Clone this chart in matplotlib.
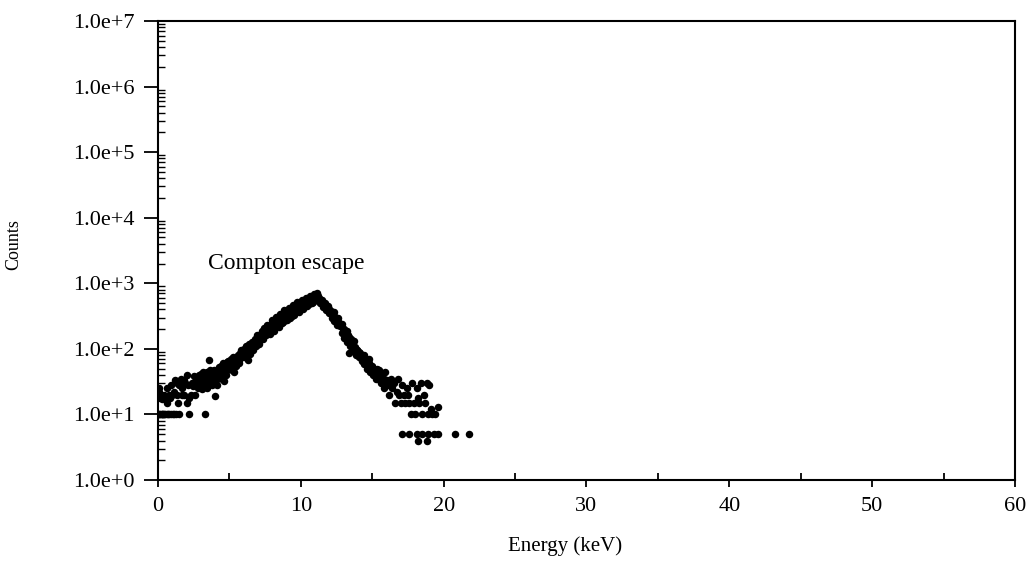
import matplotlib
matplotlib.use("Agg")
import matplotlib.pyplot as plt
from matplotlib.ticker import LogLocator, FixedLocator, NullFormatter

plt.rcParams['font.family'] = ['Liberation Serif', 'DejaVu Serif']

# spectrum (energy in keV, counts)
energy = [0.0, 0.0, 0.05, 0.1, 0.2, 0.3, 0.3, 0.4, 0.5, 0.6, 0.6, 0.7, 0.8, 0.9, 0.9,
          1.0, 1.1, 1.2, 1.3, 1.4, 1.5, 1.5, 1.6, 1.7, 1.8, 1.9,
          2.0, 2.0, 2.1, 2.2, 2.3, 2.4, 2.5, 2.6, 2.7, 2.8, 2.9,
          3.0, 3.1, 3.2, 3.3, 3.4, 3.5, 3.6, 3.7, 3.8, 3.9,
          4.0, 4.1, 4.2, 4.3, 4.4, 4.5, 4.6, 4.7, 4.8, 4.9,
          5.0, 5.1, 5.2, 5.3, 5.4, 5.5, 5.6, 5.7, 5.8, 5.9,
          6.0, 6.1, 6.2, 6.3, 6.4, 6.5, 6.6, 6.7, 6.8, 6.9,
          7.0, 7.1, 7.2, 7.3, 7.4, 7.5, 7.6, 7.7, 7.8, 7.9,
          8.0, 8.1, 8.2, 8.3, 8.4, 8.5, 8.6, 8.7, 8.8, 8.9,
          9.0, 9.1, 9.2, 9.3, 9.4, 9.5, 9.6, 9.7, 9.8, 9.9,
          10.0, 10.1, 10.2, 10.3, 10.4, 10.5, 10.6, 10.7, 10.8, 10.9,
          11.0, 11.1, 11.2, 11.3, 11.4, 11.5, 11.6, 11.7, 11.8, 11.9,
          12.0, 12.1, 12.2, 12.3, 12.4, 12.5, 12.6, 12.7, 12.8, 12.9,
          13.0, 13.1, 13.2, 13.3, 13.35, 13.4, 13.5, 13.6, 13.7, 13.8, 13.9,
          14.0, 14.1, 14.2, 14.3, 14.4, 14.5, 14.6, 14.7, 14.8, 14.9,
          15.0, 15.1, 15.2, 15.3, 15.4, 15.5, 15.6, 15.7, 15.8, 15.9,
          16.0, 16.1, 16.2, 16.3, 16.4, 16.5, 16.6, 16.7, 16.8, 16.9,
          17.0, 17.1, 17.2, 17.3, 17.4, 17.5, 17.6, 17.7, 17.8, 17.9,
          18.0, 18.1, 18.2, 18.3, 18.4, 18.5, 18.6, 18.7, 18.8, 18.9,
          19.0, 19.1, 19.2, 19.4, 19.6]
counts = [10, 18, 22, 10, 20, 10, 17, 20, 10, 15, 25, 10, 20, 10, 28,
          20, 10, 33, 20, 15, 10, 28, 35, 25, 20, 30,
          15, 40, 28, 10, 20, 30, 38, 20, 35, 25, 30,
          42, 24, 35, 10, 45, 30, 68, 38, 28, 48,
          19, 35, 45, 38, 55, 42, 32, 58, 48, 65,
          50, 70, 58, 45, 72, 62, 80, 68, 95, 75,
          100, 90, 100, 68, 105, 110, 100, 125, 140, 120,
          150, 165, 140, 175, 190, 170, 200, 185, 215, 240,
          210, 250, 270, 235, 280, 300, 265, 320, 340, 300,
          360, 330, 380, 400, 350, 420, 450, 400, 470, 500,
          460, 520, 540, 480, 550, 580, 520, 600, 560, 620,
          660, 690, 650, 600, 560, 520, 470, 500, 430, 450,
          400, 380, 340, 360, 310, 280, 300, 250, 230, 240,
          200, 180, 190, 160, 85, 150, 140, 120, 130, 105, 95,
          85, 90, 75, 68, 80, 60, 65, 55, 70, 48,
          52, 45, 40, 50, 35, 42, 30, 38, 25, 45,
          33, 28, 20, 35, 25, 30, 15, 22, 35, 20,
          15, 28, 20, 15, 25, 20, 15, 10, 30, 15,
          10, 25, 18, 15, 30, 10, 20, 15, 30, 10,
          28, 12, 10, 10, 13]

# second channel set (between the first ones), gives the band its width
energy2 = [0.15, 0.25, 0.35, 0.45, 0.65, 0.75, 1.05, 1.25, 0.1, 0.25, 0.55, 0.85,
           1.15, 1.35, 1.65, 1.85, 2.15, 2.45, 2.65, 2.85,
           3.05, 3.15, 3.25, 3.35, 3.45, 3.55, 3.65, 3.75, 3.85, 3.95,
           4.05, 4.15, 4.25, 4.35, 4.45, 4.55, 4.65, 4.75, 4.85, 4.95,
           5.05, 5.15, 5.25, 5.35, 5.45, 5.55, 5.65, 5.75, 5.85, 5.95,
           6.05, 6.15, 6.25, 6.35, 6.45, 6.55, 6.65, 6.75, 6.85, 6.95,
           7.05, 7.15, 7.25, 7.35, 7.45, 7.55, 7.65, 7.75, 7.85, 7.95,
           8.05, 8.15, 8.25, 8.35, 8.45, 8.55, 8.65, 8.75, 8.85, 8.95,
           9.05, 9.15, 9.25, 9.35, 9.45, 9.55, 9.65, 9.75, 9.85, 9.95,
           10.05, 10.15, 10.25, 10.35, 10.45, 10.55, 10.65, 10.75, 10.85, 10.95,
           11.05, 11.15, 11.25, 11.35, 11.45, 11.55, 11.65, 11.75, 11.85, 11.95,
           12.05, 12.15, 12.25, 12.35, 12.45, 12.55, 12.65, 12.75, 12.85, 12.95,
           13.05, 13.15, 13.25, 13.35, 13.45, 13.55, 13.65, 13.75, 13.85, 13.95,
           14.05, 14.15, 14.25, 14.35, 14.45, 14.55, 14.65, 14.75, 14.85, 14.95,
           15.05, 15.15, 15.25, 15.35, 15.45, 15.55, 15.65, 15.75, 15.85, 15.95]
counts2 = [10, 10, 10, 10, 10, 10, 10, 10, 25, 19, 17, 18,
           22, 30, 20, 33, 18, 27, 33, 40,
           28, 45, 30, 40, 25, 35, 48, 30, 40, 32,
           42, 28, 52, 45, 35, 60, 50, 40, 62, 55,
           60, 48, 75, 65, 55, 70, 60, 85, 78, 92,
           75, 110, 85, 118, 82, 128, 95, 125, 110, 160,
           120, 160, 185, 140, 210, 160, 230, 175, 170, 275,
           200, 190, 310, 225, 215, 340, 250, 260, 390, 280,
           280, 420, 300, 320, 460, 330, 360, 510, 370, 400,
           560, 410, 440, 600, 450, 480, 640, 500, 510, 680,
           560, 720, 560, 500, 560, 430, 470, 390, 430, 350,
           380, 300, 330, 270, 300, 230, 250, 220, 175, 190,
           145, 175, 125, 140, 110, 130, 92, 100, 80, 95,
           75, 85, 65, 75, 58, 70, 50, 60, 45, 55,
           40, 50, 35, 42, 48, 33, 40, 30, 35, 28]

# isolated low-count channels at the tail
tail_energy = [17.1, 17.6, 18.1, 18.2, 18.5, 18.8, 18.9, 19.3, 19.6, 20.8, 21.8]
tail_counts = [5, 5, 5, 4, 5, 4, 5, 5, 5, 5, 5]

fig = plt.figure(figsize=(10.34, 5.61), dpi=100)
ax = fig.add_axes([0.1528, 0.1444, 0.8288, 0.8182])

for xs, ys in [(energy, counts), (energy2, counts2), (tail_energy, tail_counts)]:
    ax.plot(xs, ys, 'o', color='black', markersize=5.4, markeredgewidth=0)

ax.set_yscale('log')
ax.set_xlim(0, 60)
ax.set_ylim(1, 1e7)

ax.yaxis.set_minor_locator(LogLocator(base=10, subs=range(2, 10), numticks=20))
ax.yaxis.set_minor_formatter(NullFormatter())
ax.set_yticks([10 ** k for k in range(8)])
ax.set_yticklabels(['1.0e+%d' % k for k in range(8)])

ax.set_xticks([0, 10, 20, 30, 40, 50, 60])
ax.xaxis.set_minor_locator(FixedLocator([5, 15, 25, 35, 45, 55]))

ax.tick_params(axis='y', which='major', direction='out', length=10, width=1.3,
               labelsize=16, pad=7)
ax.tick_params(axis='y', which='minor', direction='in', length=5, width=1.0)
ax.tick_params(axis='x', which='major', direction='out', length=5, width=1.3,
               labelsize=16, pad=7)
ax.tick_params(axis='x', which='minor', direction='in', length=5, width=1.3)

for s in ax.spines.values():
    s.set_linewidth(1.5)

ax.set_xlabel('Energy (keV)', fontsize=15)
ax.xaxis.set_label_coords((565 - 158) / 857, -0.122)
ax.set_ylabel('Counts', fontsize=13)
ax.yaxis.set_label_coords(-0.158, 0.512)

ax.text(3.5, 2000, 'Compton escape', fontsize=17, va='center', ha='left')

fig.savefig('out.png', dpi=100)
